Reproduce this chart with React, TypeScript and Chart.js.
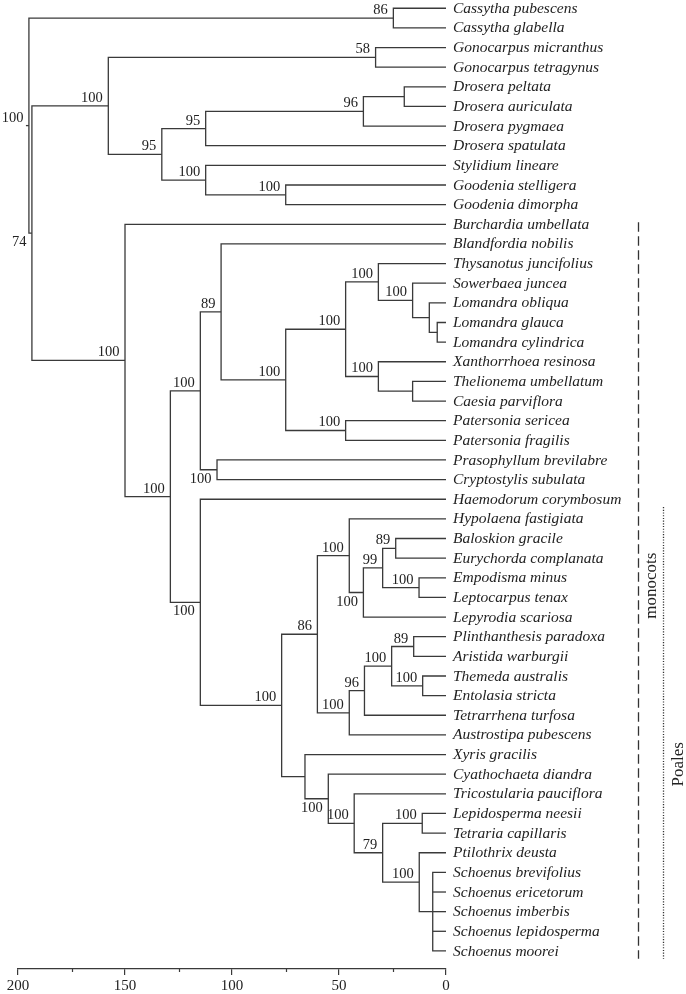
import React, { useEffect, useRef } from 'react';
import { Chart, registerables } from 'chart.js';

Chart.register(...registerables);

// ---------- data ----------
const leafNames = [
  'Cassytha pubescens', 'Cassytha glabella', 'Gonocarpus micranthus', 'Gonocarpus tetragynus',
  'Drosera peltata', 'Drosera auriculata', 'Drosera pygmaea', 'Drosera spatulata',
  'Stylidium lineare', 'Goodenia stelligera', 'Goodenia dimorpha', 'Burchardia umbellata',
  'Blandfordia nobilis', 'Thysanotus juncifolius', 'Sowerbaea juncea', 'Lomandra obliqua',
  'Lomandra glauca', 'Lomandra cylindrica', 'Xanthorrhoea resinosa', 'Thelionema umbellatum',
  'Caesia parviflora', 'Patersonia sericea', 'Patersonia fragilis', 'Prasophyllum brevilabre',
  'Cryptostylis subulata', 'Haemodorum corymbosum', 'Hypolaena fastigiata', 'Baloskion gracile',
  'Eurychorda complanata', 'Empodisma minus', 'Leptocarpus tenax', 'Lepyrodia scariosa',
  'Plinthanthesis paradoxa', 'Aristida warburgii', 'Themeda australis', 'Entolasia stricta',
  'Tetrarrhena turfosa', 'Austrostipa pubescens', 'Xyris gracilis', 'Cyathochaeta diandra',
  'Tricostularia pauciflora', 'Lepidosperma neesii', 'Tetraria capillaris', 'Ptilothrix deusta',
  'Schoenus brevifolius', 'Schoenus ericetorum', 'Schoenus imberbis', 'Schoenus lepidosperma',
  'Schoenus moorei',
];

// internal nodes, children listed before parents ('l' = leaf index, 'n' = node index)
const nodeChildren = [
  ['l0', 'l1'], ['l2', 'l3'], ['l4', 'l5'], ['n2', 'l6'], ['n3', 'l7'],
  ['l9', 'l10'], ['l8', 'n5'], ['n4', 'n6'], ['n1', 'n7'],
  ['l16', 'l17'], ['l15', 'n9'], ['l14', 'n10'], ['l13', 'n11'], ['l19', 'l20'],
  ['l18', 'n13'], ['n12', 'n14'], ['l21', 'l22'], ['n15', 'n16'], ['l12', 'n17'],
  ['l23', 'l24'], ['n18', 'n19'],
  ['l27', 'l28'], ['l29', 'l30'], ['n21', 'n22'], ['n23', 'l31'], ['l26', 'n24'],
  ['l32', 'l33'], ['l34', 'l35'], ['n26', 'n27'], ['n28', 'l36'], ['n29', 'l37'],
  ['n25', 'n30'],
  ['l41', 'l42'], ['l44', 'l45', 'l46', 'l47', 'l48'], ['l43', 'n33'], ['n32', 'n34'],
  ['l40', 'n35'], ['l39', 'n36'], ['l38', 'n37'], ['n31', 'n38'], ['l25', 'n39'],
  ['n20', 'n40'], ['l11', 'n41'], ['n8', 'n42'], ['n0', 'n43'],
];

const nodeHeights = [
  24.6, 32.9, 19.5, 38.6, 112.3, 74.9, 112.3, 132.8, 157.8,
  4.1, 7.8, 15.6, 31.6, 15.6, 31.6, 46.9, 46.9, 74.9, 105.1, 107.0, 114.8,
  23.5, 12.6, 29.6, 38.6, 45.2, 15.1, 10.9, 25.4, 38.1, 45.2, 60.1,
  11.1, 6.2, 12.5, 29.6, 42.9, 55.0, 65.9, 76.8, 114.8, 128.8, 150.0, 193.5, 194.9,
];

const nodeSupport = [
  '86', '58', '', '96', '95', '100', '100', '95', '100',
  '', '', '100', '100', '', '100', '100', '100', '100', '89', '100', '100',
  '89', '100', '99', '100', '100', '89', '100', '100', '96', '100', '86',
  '100', '', '100', '79', '100', '100', '', '100', '100', '100', '100', '74', '100',
];

// 'a' = label above the branch, 'b' = below
const supportSide = [
  'a', 'a', 'a', 'a', 'a', 'a', 'a', 'a', 'a',
  'a', 'a', 'a', 'a', 'a', 'a', 'a', 'a', 'a', 'a', 'b', 'a',
  'a', 'a', 'a', 'b', 'a', 'a', 'a', 'a', 'a', 'a', 'a',
  'a', 'a', 'a', 'a', 'a', 'b', 'a', 'a', 'b', 'a', 'a', 'b', 'a',
];

const rootHeight = 196.3;
const majorTicks = [0, 50, 100, 150, 200];
const minorTicks = [25, 75, 125, 175];

const cladeNames = ['monocots', 'Poales'];
const cladeFrom = [10.9, 25.4];
const cladeTo = [48.4, 48.4];
const cladeLabelAt = [29.4, 38.5];

// ---------- geometry from the tree ----------
const nodeY: number[] = [];
nodeChildren.forEach((ch, i) => {
  const ys = ch.map((c) => (c[0] === 'l' ? +c.slice(1) : nodeY[+c.slice(1)]));
  nodeY[i] = (ys[0] + ys[ys.length - 1]) / 2;
});
const refOf = (c: string) =>
  c[0] === 'l' ? { h: 0, y: +c.slice(1) } : { h: nodeHeights[+c.slice(1)], y: nodeY[+c.slice(1)] };

const LINE = '#3a3a3a';
const TEXT = '#222';
const SERIF = '"Liberation Serif", "Times New Roman", serif';

function buildDatasets() {
  const sets: any[] = [];
  const add = (pts: { x: number; y: number }[]) =>
    sets.push({
      data: pts,
      showLine: true,
      borderColor: LINE,
      borderWidth: 1.3,
      pointRadius: 0,
      tension: 0,
      clip: false,
      borderJoinStyle: 'miter',
    });
  nodeChildren.forEach((ch, i) => {
    const H = nodeHeights[i];
    const refs = ch.map(refOf);
    const a = refs[0];
    const b = refs[refs.length - 1];
    add([
      { x: a.h, y: a.y },
      { x: H, y: a.y },
      { x: H, y: b.y },
      { x: b.h, y: b.y },
    ]);
    refs.slice(1, -1).forEach((m) => add([{ x: H, y: m.y }, { x: m.h, y: m.y }]));
  });
  const r = nodeChildren.length - 1;
  add([{ x: rootHeight, y: nodeY[r] }, { x: nodeHeights[r], y: nodeY[r] }]);
  return sets;
}

const annotate = {
  id: 'treeText',
  afterDatasetsDraw(chart: any) {
    const { ctx, scales, chartArea } = chart;
    const xs = scales.x;
    const ys = scales.y;
    ctx.save();
    // leaf names
    ctx.fillStyle = TEXT;
    ctx.font = `italic 15.5px ${SERIF}`;
    ctx.textAlign = 'left';
    ctx.textBaseline = 'middle';
    leafNames.forEach((n, i) => {
      ctx.fillText(n, xs.getPixelForValue(0) + 7, ys.getPixelForValue(i) + 0.5);
    });
    // support values
    ctx.font = `14.5px ${SERIF}`;
    ctx.textAlign = 'right';
    ctx.textBaseline = 'alphabetic';
    nodeSupport.forEach((s, i) => {
      if (!s) return;
      const px = xs.getPixelForValue(nodeHeights[i]) - 5.5;
      const py = ys.getPixelForValue(nodeY[i]);
      ctx.fillText(s, px, supportSide[i] === 'a' ? py - 4 : py + 13);
    });
    // minor ticks
    ctx.strokeStyle = LINE;
    ctx.lineWidth = 1.2;
    minorTicks.forEach((t) => {
      const px = Math.round(xs.getPixelForValue(t)) + 0.5;
      ctx.beginPath();
      ctx.moveTo(px, chartArea.bottom);
      ctx.lineTo(px, chartArea.bottom + 3);
      ctx.stroke();
    });
    // clade bars
    const barX = [chartArea.right + 192.5, chartArea.right + 217.5];
    const textX = [chartArea.right + 206, chartArea.right + 233];
    cladeNames.forEach((name, k) => {
      ctx.save();
      ctx.strokeStyle = '#333';
      if (k === 0) {
        ctx.lineWidth = 1.3;
        ctx.setLineDash([9.5, 4.5]);
      } else {
        ctx.lineWidth = 1.3;
        ctx.setLineDash([1.1, 1.6]);
      }
      ctx.beginPath();
      ctx.moveTo(barX[k], ys.getPixelForValue(cladeFrom[k]));
      ctx.lineTo(barX[k], ys.getPixelForValue(cladeTo[k]));
      ctx.stroke();
      ctx.restore();
      ctx.save();
      ctx.translate(textX[k], ys.getPixelForValue(cladeLabelAt[k]));
      ctx.rotate(-Math.PI / 2);
      ctx.fillStyle = TEXT;
      ctx.font = `17px ${SERIF}`;
      ctx.textAlign = 'center';
      ctx.textBaseline = 'middle';
      ctx.fillText(name, 0, 0);
      ctx.restore();
    });
    ctx.restore();
  },
};

export default function App() {
  const ref = useRef<HTMLCanvasElement | null>(null);
  useEffect(() => {
    if (!ref.current) return;
    const chart = new Chart(ref.current, {
      type: 'scatter',
      data: { datasets: buildDatasets() },
      options: {
        animation: false,
        responsive: false,
        events: [],
        layout: { padding: { left: 18, right: 240, top: 0, bottom: 0 } },
        plugins: { legend: { display: false }, tooltip: { enabled: false } },
        scales: {
          x: {
            type: 'linear',
            min: 0,
            max: 200,
            reverse: true,
            position: 'bottom',
            afterBuildTicks: (s: any) => {
              s.ticks = majorTicks.map((v) => ({ value: v }));
            },
            afterFit: (s: any) => {
              s.height = 25;
            },
            ticks: {
              color: TEXT,
              font: { family: SERIF, size: 15 },
              padding: 2,
              maxRotation: 0,
              autoSkip: false,
            },
            grid: {
              display: true,
              drawOnChartArea: false,
              drawTicks: true,
              tickLength: 6,
              color: LINE,
              lineWidth: 1.2,
            },
            border: { display: true, color: LINE, width: 1.3 },
          },
          y: {
            type: 'linear',
            min: -0.42,
            max: 48.92,
            reverse: true,
            display: false,
          },
        },
      },
      plugins: [annotate],
    });
    return () => chart.destroy();
  }, []);
  return (
    <div style={{ position: 'fixed', left: 0, top: 0, width: 686, height: 994, background: '#fff' }}>
      <canvas ref={ref} width={686} height={994} style={{ display: 'block' }} />
    </div>
  );
}
